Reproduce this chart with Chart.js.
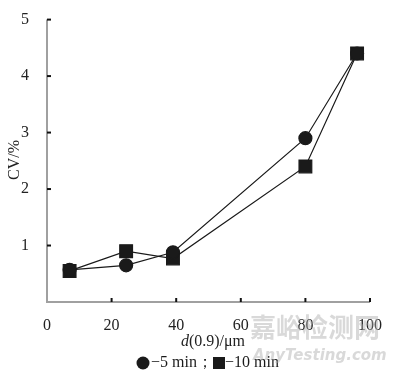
<!DOCTYPE html>
<html><head><meta charset="utf-8">
<script src="https://cdn.jsdelivr.net/npm/chart.js@4/dist/chart.umd.min.js"></script>
<style>html,body{margin:0;padding:0;background:#fff}#w{width:400px;height:376px}</style>
</head><body><div id="w"><canvas id="c" width="400" height="376"></canvas></div>
<script>
const xValues = [7, 24.5, 39, 80, 96];
const cv5min = [0.57, 0.65, 0.88, 2.9, 4.4];
const cv10min = [0.55, 0.9, 0.77, 2.4, 4.4];
const xTicks = [0, 20, 40, 60, 80, 100];
const yTicks = [1, 2, 3, 4, 5];
const seriesNames = ['5 min', '10 min'];

const FONT = '"Liberation Serif", "Times New Roman", serif';
const toPts = ys => xValues.map((x, i) => ({x, y: ys[i]}));

const decor = {
  id: 'decor',
  afterDraw(chart) {
    const ctx = chart.ctx, xs = chart.scales.x, ys = chart.scales.y, ca = chart.chartArea;
    ctx.save();
    ctx.strokeStyle = '#a0a0a0'; ctx.lineWidth = 2;
    ctx.beginPath(); ctx.moveTo(ca.left, ys.getPixelForValue(5)); ctx.lineTo(ca.left, ca.bottom); ctx.lineTo(xs.getPixelForValue(100), ca.bottom); ctx.stroke();
    ctx.strokeStyle = '#111'; ctx.lineWidth = 2;
    yTicks.forEach(v => { const p = ys.getPixelForValue(v); ctx.beginPath(); ctx.moveTo(ca.left, p); ctx.lineTo(ca.left + 4, p); ctx.stroke(); });
    xTicks.slice(1).forEach(v => { const p = xs.getPixelForValue(v); ctx.beginPath(); ctx.moveTo(p, ca.bottom); ctx.lineTo(p, ca.bottom - 4); ctx.stroke(); });
    ctx.fillStyle = '#222';
    ctx.save(); ctx.translate(15, 160); ctx.rotate(-Math.PI/2);
    ctx.font = '16px ' + FONT; ctx.textAlign = 'center'; ctx.textBaseline = 'middle';
    ctx.fillText('CV/%', 0, 0); ctx.restore();
    ctx.textBaseline = 'middle';
    const yT = 342;
    ctx.font = 'italic 16px ' + FONT; const w1 = ctx.measureText('d').width;
    ctx.font = '16px ' + FONT; const w2 = ctx.measureText('(0.9)/μm').width;
    let x0 = 213 - (w1 + w2) / 2;
    ctx.textAlign = 'left';
    ctx.font = 'italic 16px ' + FONT; ctx.fillText('d', x0, yT);
    ctx.font = '16px ' + FONT; ctx.fillText('(0.9)/μm', x0 + w1, yT);
    const yL = 363;
    ctx.fillStyle = '#1a1a1a';
    ctx.beginPath(); ctx.arc(143, yL, 6.5, 0, Math.PI*2); ctx.fill();
    ctx.font = '16px ' + FONT; ctx.textAlign = 'left';
    ctx.fillText('−' + seriesNames[0] + '；', 151, yL);
    ctx.fillRect(213, yL - 6, 12, 12);
    ctx.fillText('−' + seriesNames[1], 225, yL);
    ctx.fillStyle = 'rgba(170,170,170,0.45)';
    ctx.font = 'bold 26px "Noto Sans CJK SC", sans-serif'; ctx.textAlign = 'left';
    ctx.fillText('嘉峪检测网', 250, 327);
    ctx.font = 'italic bold 15px "DejaVu Sans", sans-serif';
    ctx.fillText('AnyTesting.com', 253, 356);
    ctx.restore();
  }
};

new Chart(document.getElementById('c'), {
  type: 'scatter',
  data: {
    datasets: [
      { label: seriesNames[0], order: 1, data: toPts(cv5min), showLine: true, borderColor: '#1a1a1a', borderWidth: 1.2,
        backgroundColor: '#1a1a1a', pointStyle: 'circle', pointRadius: 6.5, pointHoverRadius: 6.5 },
      { label: seriesNames[1], order: 2, data: toPts(cv10min), showLine: true, borderColor: '#1a1a1a', borderWidth: 1.2,
        backgroundColor: '#1a1a1a', pointStyle: 'rect', pointRadius: 9, pointHoverRadius: 9 }
    ]
  },
  options: {
    responsive: false, animation: false,
    layout: { padding: { left: 0, right: 30, top: 12, bottom: 0 } },
    plugins: { legend: { display: false }, tooltip: { enabled: false } },
    scales: {
      x: { type: 'linear', min: 0, max: 100, border: { display: false },
        grid: { display: false },
        afterBuildTicks: s => { s.ticks = xTicks.map(v => ({value: v})); },
        ticks: { color: '#222', font: { family: FONT, size: 16 }, padding: 6, maxRotation: 0 },
        afterFit: s => { s.height = 74; } },
      y: { type: 'linear', min: 0, max: 5, border: { display: false },
        grid: { display: false },
        afterBuildTicks: s => { s.ticks = yTicks.map(v => ({value: v})); },
        ticks: { color: '#222', font: { family: FONT, size: 16 }, padding: 10 },
        afterFit: s => { s.width = 47; } }
    }
  },
  plugins: [decor]
});
</script></body></html>
